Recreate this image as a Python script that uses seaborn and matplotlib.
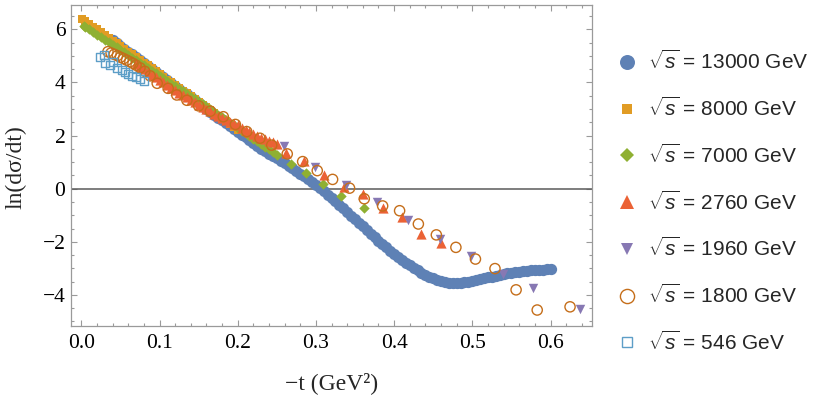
import matplotlib
matplotlib.use('Agg')
import numpy as np
import pandas as pd
import matplotlib.pyplot as plt
import seaborn as sns
from matplotlib.lines import Line2D
from matplotlib.ticker import MultipleLocator, FormatStrFormatter

sns.set_style('ticks')
plt.rcParams['font.family'] = ['Liberation Serif', 'DejaVu Serif']
plt.rcParams['mathtext.fontset'] = 'custom'
plt.rcParams['mathtext.rm'] = 'Liberation Sans'
plt.rcParams['mathtext.it'] = 'Liberation Sans:italic'

# ln(dsigma/dt) vs -t
t_13000 = [0.040, 0.045, 0.050, 0.055, 0.060, 0.065, 0.070, 0.075, 0.080, 0.085,
           0.090, 0.095, 0.100, 0.105, 0.110, 0.115, 0.120, 0.125, 0.130, 0.135,
           0.140, 0.145, 0.150, 0.155, 0.160, 0.165, 0.170, 0.175, 0.180, 0.185,
           0.190, 0.195, 0.200, 0.205, 0.210, 0.215, 0.220, 0.225, 0.230, 0.235,
           0.240, 0.245, 0.250, 0.255, 0.260, 0.265, 0.270, 0.275, 0.280, 0.285,
           0.290, 0.295, 0.300, 0.305, 0.310, 0.315, 0.320, 0.325, 0.330, 0.335,
           0.340, 0.345, 0.350, 0.355, 0.360, 0.365, 0.370, 0.375, 0.380, 0.385,
           0.390, 0.395, 0.400, 0.405, 0.410, 0.415, 0.420, 0.425, 0.430, 0.435,
           0.440, 0.445, 0.450, 0.455, 0.460, 0.465, 0.470, 0.475, 0.480, 0.485,
           0.490, 0.495, 0.500, 0.505, 0.510, 0.515, 0.520, 0.525, 0.530, 0.535,
           0.540, 0.545, 0.550, 0.555, 0.560, 0.565, 0.570, 0.575, 0.580, 0.585,
           0.590, 0.595, 0.600]
y_13000 = [5.60, 5.49, 5.38, 5.27, 5.16, 5.06, 4.95, 4.84, 4.73, 4.62,
           4.51, 4.41, 4.30, 4.19, 4.08, 3.98, 3.87, 3.76, 3.65, 3.55,
           3.44, 3.33, 3.22, 3.11, 3.00, 2.90, 2.79, 2.68, 2.57, 2.47,
           2.36, 2.25, 2.14, 2.04, 1.93, 1.82, 1.71, 1.61, 1.51, 1.41,
           1.32, 1.23, 1.14, 1.05, 0.96, 0.87, 0.77, 0.67, 0.57, 0.47,
           0.36, 0.25, 0.14, 0.02, -0.10, -0.22, -0.35, -0.48, -0.61, -0.74,
           -0.88, -1.01, -1.15, -1.28, -1.42, -1.55, -1.69, -1.82, -1.96, -2.08,
           -2.21, -2.33, -2.45, -2.57, -2.68, -2.79, -2.89, -2.99, -3.08, -3.17,
           -3.25, -3.32, -3.38, -3.43, -3.48, -3.51, -3.54, -3.55, -3.56, -3.55,
           -3.53, -3.51, -3.48, -3.45, -3.41, -3.38, -3.34, -3.31, -3.27, -3.24,
           -3.21, -3.18, -3.16, -3.14, -3.12, -3.10, -3.09, -3.08, -3.07, -3.06,
           -3.05, -3.04, -3.04]

t_8000 = [0.001, 0.005, 0.010, 0.015, 0.020, 0.025, 0.030, 0.035, 0.040, 0.045,
          0.050, 0.055, 0.060, 0.065, 0.070, 0.075, 0.080, 0.085, 0.090, 0.095,
          0.100, 0.105, 0.110, 0.115, 0.120, 0.125, 0.130, 0.135, 0.140, 0.145,
          0.150, 0.155, 0.160, 0.165, 0.170, 0.175, 0.180, 0.185, 0.190, 0.195,
          0.200]
y_8000 = [6.38, 6.30, 6.20, 6.10, 6.00, 5.90, 5.79, 5.69, 5.58, 5.48,
          5.37, 5.27, 5.16, 5.06, 4.95, 4.85, 4.74, 4.64, 4.53, 4.43,
          4.32, 4.22, 4.11, 4.01, 3.90, 3.80, 3.69, 3.59, 3.48, 3.38,
          3.27, 3.17, 3.06, 2.96, 2.85, 2.75, 2.64, 2.54, 2.43, 2.33,
          2.22]

t_7000 = [0.003, 0.005, 0.010, 0.015, 0.020, 0.025, 0.030, 0.035, 0.040, 0.045,
          0.050, 0.055, 0.060, 0.065, 0.070, 0.075, 0.080, 0.085, 0.090, 0.095,
          0.100, 0.105, 0.110, 0.115, 0.120, 0.125, 0.130, 0.135, 0.140, 0.145,
          0.150, 0.155, 0.160, 0.165, 0.170, 0.175, 0.180, 0.185, 0.190, 0.195,
          0.200, 0.205, 0.210, 0.215, 0.220, 0.225, 0.230, 0.235, 0.240, 0.245,
          0.250, 0.2677, 0.2872, 0.3085, 0.3323, 0.3614]
y_7000 = [6.13, 6.10, 6.00, 5.90, 5.80, 5.71, 5.61, 5.52, 5.42, 5.32,
          5.22, 5.13, 5.03, 4.94, 4.84, 4.74, 4.64, 4.55, 4.45, 4.35,
          4.25, 4.16, 4.06, 3.96, 3.86, 3.77, 3.67, 3.57, 3.47, 3.38,
          3.28, 3.18, 3.08, 2.99, 2.89, 2.79, 2.69, 2.59, 2.49, 2.39,
          2.29, 2.19, 2.09, 1.99, 1.89, 1.79, 1.68, 1.58, 1.48, 1.38,
          1.27, 0.92, 0.60, 0.18, -0.27, -0.74]

t_2760 = [0.070, 0.075, 0.080, 0.085, 0.090, 0.095, 0.100, 0.105, 0.110, 0.115,
          0.120, 0.125, 0.130, 0.135, 0.140, 0.145, 0.150, 0.155, 0.160, 0.165,
          0.170, 0.175, 0.180, 0.185, 0.190, 0.195, 0.200, 0.205, 0.210, 0.215,
          0.220, 0.225, 0.230, 0.235, 0.240, 0.245, 0.250, 0.2618, 0.2847, 0.3097,
          0.3358, 0.3597, 0.3853, 0.41, 0.434, 0.46]
y_2760 = [4.70, 4.60, 4.50, 4.40, 4.30, 4.20, 4.10, 4.00, 3.91, 3.81,
          3.72, 3.62, 3.53, 3.44, 3.35, 3.26, 3.17, 3.08, 3.00, 2.91,
          2.83, 2.75, 2.67, 2.59, 2.52, 2.45, 2.38, 2.30, 2.22, 2.14,
          2.07, 1.99, 1.92, 1.86, 1.80, 1.74, 1.68, 1.35, 1.04, 0.52,
          0.08, -0.20, -0.73, -1.07, -1.69, -2.06]

t_1960 = [0.2591, 0.2989, 0.3381, 0.3777, 0.418, 0.4585, 0.498, 0.5387, 0.578, 0.6375]
y_1960 = [1.61, 0.80, 0.15, -0.51, -1.18, -1.89, -2.53, -3.21, -3.75, -4.53]

t_1800 = [0.034, 0.038, 0.042, 0.046, 0.050, 0.054, 0.058, 0.062, 0.066, 0.070,
          0.075, 0.081, 0.088, 0.097, 0.111, 0.122, 0.135, 0.150, 0.165, 0.1815,
          0.197, 0.2115, 0.2284, 0.2434, 0.2633, 0.283, 0.3017, 0.3213, 0.343, 0.3618,
          0.3853, 0.407, 0.431, 0.454, 0.479, 0.504, 0.529, 0.556, 0.583, 0.625]
y_1800 = [5.16, 5.11, 5.06, 5.01, 4.95, 4.90, 4.84, 4.78, 4.72, 4.65,
          4.55, 4.42, 4.25, 3.97, 3.78, 3.53, 3.33, 3.12, 2.92, 2.71,
          2.42, 2.15, 1.90, 1.64, 1.31, 1.02, 0.68, 0.35, 0.02, -0.38,
          -0.65, -0.83, -1.33, -1.74, -2.21, -2.65, -3.01, -3.81, -4.57, -4.45]

t_546 = [0.0234, 0.0288, 0.030, 0.0367, 0.0409, 0.0452, 0.0516, 0.0558, 0.060,
         0.0644, 0.070, 0.075, 0.080]
y_546 = [4.95, 5.03, 4.72, 4.66, 4.78, 4.53, 4.47, 4.40, 4.32, 4.24, 4.19, 4.12, 4.06]

energies = ['13000', '8000', '7000', '2760', '1960', '1800', '546']
t_lists = [t_13000, t_8000, t_7000, t_2760, t_1960, t_1800, t_546]
y_lists = [y_13000, y_8000, y_7000, y_2760, y_1960, y_1800, y_546]

df = pd.concat([pd.DataFrame({'t': t, 'lnds': y, 'energy': e})
                for e, t, y in zip(energies, t_lists, y_lists)], ignore_index=True)

# marker, colour, filled, scatter size, legend size
styles = {
    '13000': ('o', '#5E81B5', True, 66, 10.8),
    '8000': ('s', '#E19C24', True, 34, 7.2),
    '7000': ('D', '#8FB032', True, 28, 6.8),
    '2760': ('^', '#EB6235', True, 54, 9.6),
    '1960': ('v', '#8778B3', True, 46, 8.8),
    '1800': ('o', '#C56E1A', False, 54, 10.2),
    '546': ('s', '#5D9EC7', False, 34, 7.0),
}

fig = plt.figure(figsize=(8.3, 3.98), dpi=100)
ax = fig.add_axes([0.0855, 0.1817, 0.6274, 0.8065])

for i, e in enumerate(energies):
    m, c, filled, s, _ = styles[e]
    sub = df[df['energy'] == e]
    sns.scatterplot(data=sub, x='t', y='lnds', ax=ax, marker=m, color=c, s=s,
                    linewidth=0, legend=False, zorder=3 + i)
    coll = ax.collections[-1]
    if not filled:
        coll.set_facecolor('none')
        coll.set_edgecolor(c)
        coll.set_linewidth(1.0)

ax.axhline(0, color='#5a5a5a', lw=1.1, zorder=2.5)

ax.set_xlim(-0.0133, 0.6527)
ax.set_ylim(-5.16, 6.93)
ax.xaxis.set_major_locator(MultipleLocator(0.1))
ax.xaxis.set_minor_locator(MultipleLocator(0.02))
ax.xaxis.set_major_formatter(FormatStrFormatter('%.1f'))
ax.yaxis.set_major_locator(MultipleLocator(2))
ax.yaxis.set_minor_locator(MultipleLocator(0.5))

frame = '#9a9a9a'
for sp in ax.spines.values():
    sp.set_color(frame)
    sp.set_linewidth(0.9)
ax.tick_params(which='both', direction='in', top=True, right=True, color=frame,
               width=0.8, labelsize=15.5, labelcolor='black')
ax.tick_params(which='major', length=4.5)
ax.tick_params(which='minor', length=2.5)
ax.tick_params(axis='x', pad=6)
ax.tick_params(axis='y', pad=4)

ax.set_xlabel('−t (GeV²)', fontsize=17)
ax.set_ylabel('ln(dσ/dt)', fontsize=17)
ax.xaxis.set_label_coords(0.5, -0.145)
ax.yaxis.set_label_coords(-0.085, 0.495)

handles = []
labels = []
for e in energies:
    m, c, filled, s, lms = styles[e]
    handles.append(Line2D([], [], ls='none', marker=m, ms=lms, color=c,
                          mfc=c if filled else 'none', mec=c,
                          mew=0 if filled else 1.0))
    labels.append(r'$\sqrt{s}$ = ' + e + ' GeV')

fig.legend(handles, labels, loc='center left', bbox_to_anchor=(0.7425, 0.493),
           frameon=False, borderpad=0, borderaxespad=0, handlelength=1.0,
           handletextpad=0.52, labelspacing=1.12,
           prop={'family': 'Liberation Sans', 'size': 15})

fig.savefig('out.png', dpi=100)
